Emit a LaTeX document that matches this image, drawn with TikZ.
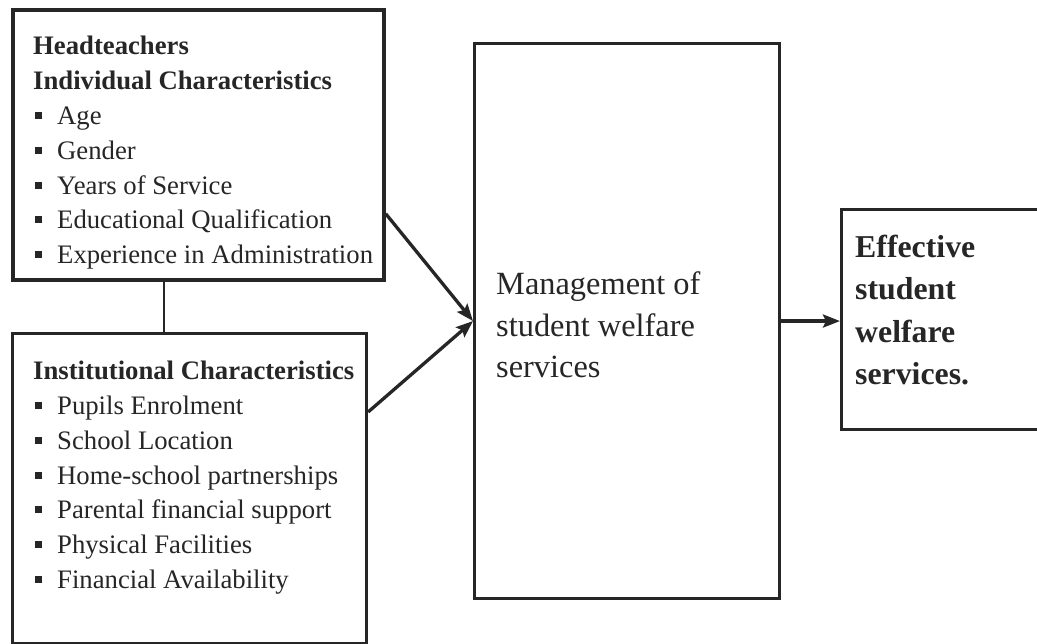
\documentclass[tikz,border=0pt]{standalone}
\usepackage{fontspec}
\setmainfont{Liberation Serif}
\usetikzlibrary{arrows.meta}

\definecolor{ink}{gray}{0.15}

\tikzset{
  frame/.style={draw=ink, line width=3.1pt, inner sep=0pt, anchor=north west},
  lbl/.style={anchor=base west, inner sep=0pt, text=ink, font=\fontsize{26.7}{35}\selectfont},
  head/.style={lbl, font=\fontsize{26.7}{35}\selectfont\bfseries},
  midtext/.style={anchor=base west, inner sep=0pt, text=ink, font=\fontsize{32.4}{42}\selectfont},
  endtext/.style={anchor=base west, inner sep=0pt, text=ink, font=\fontsize{31.8}{43}\selectfont\bfseries},
  flow/.style={draw=ink, line width=3.3pt, -{Stealth[length=17pt,width=13pt,inset=3pt]}},
  joint/.style={draw=ink, line width=1.6pt},
}
\newcommand{\bulletsq}{\rule[5.5pt]{7pt}{7pt}\hspace{15pt}}

\begin{document}
\begin{tikzpicture}[x=1pt,y=-1pt]
\useasboundingbox (0,0) rectangle (1037,644);
\clip (0,0) rectangle (1037,644);

% the four boxes
\node[frame, line width=3.7pt, minimum width=371pt, minimum height=270pt] (hbox) at (11,8) {};
\node[frame, minimum width=354pt, minimum height=310pt] (ibox) at (11,332) {};
\node[frame, minimum width=305pt, minimum height=555pt] (mbox) at (473,42) {};
\node[frame, line width=3.4pt, minimum width=215pt, minimum height=220pt] (ebox) at (840,208) {};

% headteachers' characteristics
\node[head] (h1) at (33,55) {Headteachers};
\node[head] (h2) at (33,89.8) {Individual Characteristics};
\foreach \t [count=\i] in {Age, Gender, Years of Service, Educational Qualification, Experience in Administration}
  \node[lbl] (hi\i) at (35,89.8+34.8*\i) {\bulletsq\t};

% institutional characteristics
\node[head] (i1) at (33,380) {Institutional Characteristics};
\foreach \t [count=\i] in {Pupils Enrolment, School Location, Home-school partnerships, Parental financial support, Physical Facilities, Financial Availability}
  \node[lbl] (ii\i) at (35,380+34.7*\i) {\bulletsq\t};

% management box text
\node[midtext] (m1) at (496,295) {Management of};
\node[midtext] (m2) at (496,337) {student welfare};
\node[midtext] (m3) at (496,378) {services};

% outcome box text
\node[endtext] (e1) at (855,258) {Effective};
\node[endtext] (e2) at (855,300) {student};
\node[endtext] (e3) at (855,343) {welfare};
\node[endtext] (e4) at (855,385) {services.};

% connectors
\coordinate (link) at (164,0);
\draw[joint] (hbox.south -| link) -- (ibox.north -| link);
\draw[flow] (hbox.south east) ++(0,-68) -- (mbox.west);
\draw[flow] (ibox.north east) ++(0,80) -- (mbox.west);
\draw[flow] (mbox.east) -- (mbox.east -| ebox.west);
\end{tikzpicture}
\end{document}
